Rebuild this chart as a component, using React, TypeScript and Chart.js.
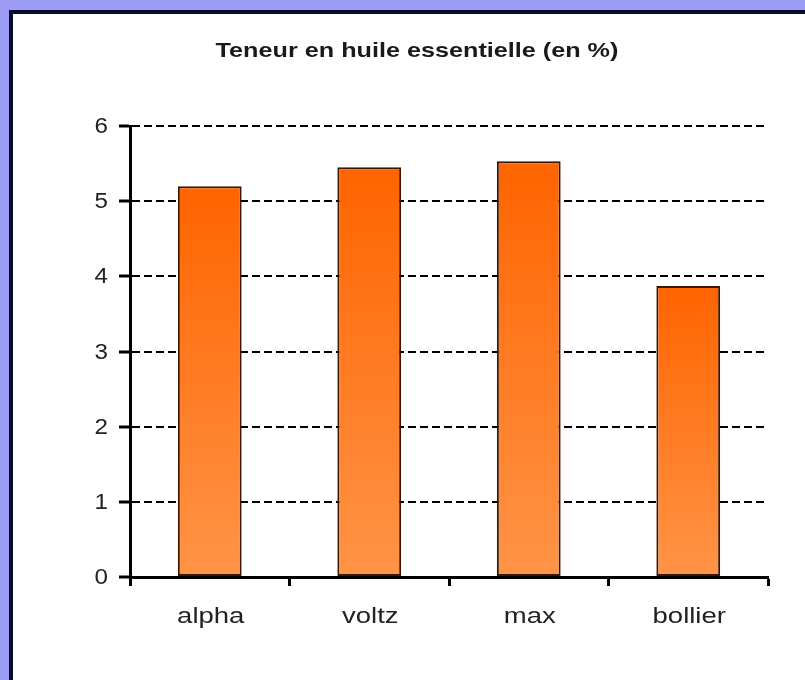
import React, { useEffect, useRef } from "react";
import { Chart, registerables } from "chart.js";

Chart.register(...registerables);

const titleText = "Teneur en huile essentielle (en %)";
const categories = ["alpha", "voltz", "max", "bollier"];
const values = [5.2, 5.45, 5.53, 3.87];
const yTicks = [0, 1, 2, 3, 4, 5, 6];

const FONT = "'Liberation Sans', Arial, sans-serif";

function stretchedText(c: CanvasRenderingContext2D, text: string, x: number, y: number, sx: number, align: "center" | "right") {
  c.save();
  c.translate(x, y);
  c.scale(sx, 1);
  c.textAlign = align;
  c.fillText(text, 0, 0);
  c.restore();
}

export default function App() {
  const ref = useRef<HTMLCanvasElement | null>(null);

  useEffect(() => {
    document.body.style.margin = "0";
    const canvas = ref.current!;
    const textPlugin = {
      id: "customText",
      afterDraw(chart: any) {
        const c = chart.ctx as CanvasRenderingContext2D;
        c.save();
        c.fillStyle = "#1a1a1a";
        c.textBaseline = "middle";
        c.font = `bold 21px ${FONT}`;
        stretchedText(c, titleText, 417, 51, 1.2, "center");

        c.fillStyle = "#222";
        c.font = `22px ${FONT}`;
        const ys = chart.scales.y;
        yTicks.forEach((v) => {
          stretchedText(c, String(v), 108, ys.getPixelForValue(v) + 1, 1.1, "right");
        });
        const xs = chart.scales.x;
        c.textBaseline = "alphabetic";
        categories.forEach((lab, i) => {
          stretchedText(c, lab, xs.getPixelForValue(i) + 1, 623, 1.25, "center");
        });
        c.restore();
      },
    };
    const chart = new Chart(canvas, {
      type: "bar",
      data: {
        labels: categories,
        datasets: [
          {
            data: values,
            backgroundColor: (ctx: any) => {
              const ch = ctx.chart;
              const area = ch.chartArea;
              if (!area || !ch.scales.y) return "#FF7A20";
              const v = ctx.raw as number;
              const top = ch.scales.y.getPixelForValue(v);
              const bottom = area.bottom;
              if (!isFinite(top) || bottom - top < 1) return "#FF7A20";
              const g = ch.ctx.createLinearGradient(0, top, 0, bottom);
              g.addColorStop(0, "#FF6400");
              g.addColorStop(1, "#FF9448");
              return g;
            },
            borderColor: "#3a1800",
            borderWidth: 2,
            borderSkipped: false,
            barPercentage: 0.4,
            categoryPercentage: 1,
          },
        ],
      },
      options: {
        responsive: false,
        animation: false,
        layout: { padding: { left: 0, top: 126, right: 37, bottom: 0 } },
        plugins: {
          legend: { display: false },
          tooltip: { enabled: false },
          title: { display: false },
        },
        scales: {
          x: {
            offset: true,
            grid: {
              display: true,
              drawOnChartArea: false,
              drawTicks: true,
              tickLength: 9,
              tickWidth: 3,
              tickColor: "#000",
              offset: true,
            },
            border: { display: true, color: "#000", width: 3 },
            ticks: { display: false },
            afterFit(scale: any) {
              scale.height = 103;
            },
          },
          y: {
            min: 0,
            max: 6,
            afterBuildTicks(scale: any) {
              scale.ticks = yTicks.map((v) => ({ value: v }));
            },
            grid: {
              color: (ctx: any) => (ctx.tick && ctx.tick.value === 0 ? "rgba(0,0,0,0)" : "#000"),
              lineWidth: 2,
              tickBorderDash: [],
              drawTicks: true,
              tickLength: 11,
              tickWidth: 3,
              tickColor: "#000",
            },
            border: { display: true, color: "#000", width: 3, dash: [8, 4] },
            ticks: { display: false },
            afterFit(scale: any) {
              scale.width = 130;
            },
          },
        },
      },
      plugins: [textPlugin],
    });
    return () => chart.destroy();
  }, []);

  return (
    <div
      style={{
        position: "relative",
        width: 805,
        height: 680,
        background: "#9C9CF4",
        overflow: "hidden",
      }}
    >
      <div
        style={{
          position: "absolute",
          left: 9,
          top: 10,
          width: 805,
          height: 680,
          background: "#ffffff",
          borderLeft: "4px solid #0a0a2a",
          borderTop: "4px solid #0a0a2a",
        }}
      />
      <canvas
        ref={ref}
        width={805}
        height={680}
        style={{ position: "absolute", left: 0, top: 0, width: 805, height: 680 }}
      />
    </div>
  );
}
